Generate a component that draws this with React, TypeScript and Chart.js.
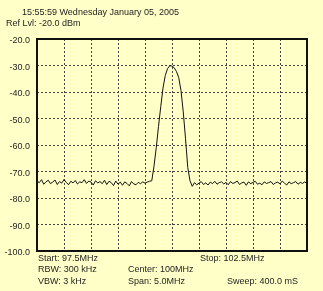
import React, { useEffect, useRef } from "react";
import { Chart, registerables } from "chart.js";

Chart.register(...registerables);

const startMHz = 97.5;
const stopMHz = 102.5;
const yMin = -100;
const yMax = -20;
const yStep = 10;

const headerLines = ["15:55:59 Wednesday January 05, 2005", "Ref Lvl: -20.0 dBm"];
const footerItems = [
  { text: "Start: 97.5MHz", col: 0, row: 0 },
  { text: "Stop: 102.5MHz", col: 2, row: 0 },
  { text: "RBW: 300 kHz", col: 0, row: 1 },
  { text: "Center: 100MHz", col: 1, row: 1 },
  { text: "VBW: 3 kHz", col: 0, row: 2 },
  { text: "Span: 5.0MHz", col: 1, row: 2 },
  { text: "Sweep: 400.0 mS", col: 3, row: 2 },
];

// trace amplitude (dBm), sampled evenly from start to stop
const noiseLeft = [
  -73.6, -74.2, -73.1, -74.8, -73.9, -73.3, -74.6, -74.0, -73.2, -74.9,
  -73.8, -74.4, -73.0, -74.1, -75.0, -73.7, -74.3, -73.4, -74.7, -73.9,
  -74.2, -73.1, -74.5, -73.6, -74.0, -75.1, -73.5, -74.3, -73.8, -74.6,
  -73.3, -74.9, -73.7, -74.2, -75.3, -73.6, -74.8, -74.0, -75.2, -73.9,
  -74.5, -75.4, -73.8, -74.7, -75.0, -74.1, -74.6, -73.9, -74.4, -74.0,
  -73.7, -73.5,
];
const signal = [
  -68.0, -61.0, -53.0, -45.5, -38.5, -33.8, -31.2, -30.1, -30.2, -30.9,
  -32.3, -34.6, -39.5, -47.5, -57.5, -68.5, -73.5,
];
const noiseRight = [
  -75.6, -74.2, -75.0, -74.4, -73.8, -74.9, -74.3, -75.1, -74.0, -74.6,
  -73.7, -74.8, -74.2, -73.9, -74.7, -74.1, -75.0, -73.8, -74.5, -74.2,
  -73.6, -74.9, -74.3, -74.0, -75.2, -73.9, -74.6, -74.1, -73.7, -74.8,
  -74.4, -75.0, -73.9, -74.5, -74.2, -73.8, -74.9, -74.3, -74.0, -74.7,
  -73.6, -74.4, -75.1, -73.9, -74.6, -74.2, -73.8, -74.8, -74.1, -74.5,
  -73.9, -74.6,
];

const FONT = "'Liberation Sans', Arial, sans-serif";
const TEXT = "#1e1e1e";
const BG = "#ffffc8";

export default function App() {
  const ref = useRef<HTMLCanvasElement>(null);

  useEffect(() => {
    const amps = [...noiseLeft, ...signal, ...noiseRight];
    const n = amps.length;
    const points = amps.map((y, i) => ({ x: startMHz + (i * (stopMHz - startMHz)) / (n - 1), y }));

    const textPlugin = {
      id: "texts",
      afterDraw(chart: any) {
        const { ctx, chartArea } = chart;
        ctx.save();
        ctx.lineWidth = 2;
        ctx.strokeStyle = "#111";
        ctx.strokeRect(chartArea.left, chartArea.top, chartArea.right - chartArea.left, chartArea.bottom - chartArea.top);
        ctx.fillStyle = TEXT;
        ctx.font = `9px ${FONT}`;
        ctx.textBaseline = "middle";
        ctx.textAlign = "left";
        ctx.fillText(headerLines[0], 22, 13);
        ctx.fillText(headerLines[1], 6, 24);
        const colX = [38, 128, 200, 227];
        const rowY = [259, 270, 282];
        footerItems.forEach((f) => ctx.fillText(f.text, colX[f.col], rowY[f.row]));
        ctx.restore();
      },
    };

    const chart = new Chart(ref.current!, {
      type: "line",
      data: {
        datasets: [
          {
            data: points,
            borderColor: "#111",
            borderWidth: 1,
            pointRadius: 0,
            tension: 0,
            fill: false,
          },
        ],
      },
      options: {
        responsive: false,
        animation: false,
        layout: { padding: { top: 39, right: 16, left: 0, bottom: 0 } },
        plugins: { legend: { display: false }, tooltip: { enabled: false } },
        scales: {
          x: {
            type: "linear",
            min: startMHz,
            max: stopMHz,
            ticks: { display: false, stepSize: 0.5 },
            grid: { color: "#444", lineWidth: 1, drawTicks: false },
            border: { display: false, dash: [2, 2] },
            afterFit: (s: any) => {
              s.height = 40;
            },
          },
          y: {
            min: yMin,
            max: yMax,
            ticks: {
              stepSize: yStep,
              padding: 7,
              labelOffset: 2,
              color: TEXT,
              font: { family: FONT, size: 9 },
              callback: (v: any) => Number(v).toFixed(1),
            },
            grid: { color: "#444", lineWidth: 1, drawTicks: false },
            border: { display: false, dash: [2, 2] },
            afterFit: (s: any) => {
              s.width = 37;
            },
          },
        },
      },
      plugins: [textPlugin],
    });
    return () => chart.destroy();
  }, []);

  return (
    <div style={{ position: "absolute", left: 0, top: 0, width: 323, height: 291, background: BG }}>
      <canvas ref={ref} width={323} height={291} />
    </div>
  );
}
